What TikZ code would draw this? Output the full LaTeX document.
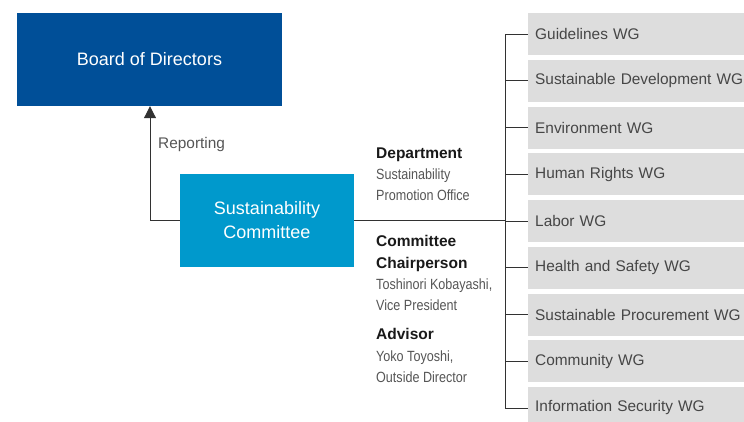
\documentclass[tikz,border=0pt]{standalone}
\usepackage{fontspec}
\setmainfont{Liberation Sans}
\newfontfamily\condfont[FakeStretch=0.85]{Liberation Sans}
\usetikzlibrary{arrows.meta}
\definecolor{boardblue}{RGB}{0,79,152}
\definecolor{commblue}{RGB}{0,153,204}
\definecolor{wgfill}{RGB}{221,221,221}
\definecolor{wgtext}{RGB}{70,70,70}
\definecolor{greytext}{RGB}{85,85,85}
\definecolor{linecol}{RGB}{50,50,50}
\begin{document}
\begin{tikzpicture}[x=1pt,y=-1pt,
  bluebox/.style={draw=none,text=white,inner sep=0pt,align=center,
    font=\fontsize{18}{24}\selectfont},
  wgbox/.style={fill=wgfill,anchor=west,minimum width=216pt,minimum height=42pt,
    inner xsep=7pt,text=wgtext,font=\fontsize{15.4}{18}\selectfont,text width=212pt,align=left},
  conn/.style={draw=linecol,line width=1pt},
  head/.style={anchor=base west,inner sep=0pt,text=black!90,font=\bfseries\fontsize{15.5}{18}\selectfont},
  sub/.style={anchor=base west,inner sep=0pt,text=greytext,font=\condfont\fontsize{14.8}{18}\selectfont},
  rep/.style={anchor=base west,inner sep=0pt,text=greytext,font=\fontsize{15.4}{18}\selectfont}
]
\useasboundingbox (0,0) rectangle (744,421);
\begin{scope}
\clip (0,0) rectangle (744,421);
\node[bluebox,fill=boardblue,minimum width=265pt,minimum height=93pt] (board) at (149.5,59.5) {Board of Directors};
\node[bluebox,fill=commblue,minimum width=174pt,minimum height=93pt] (comm) at (267,220.5) {Sustainability\\Committee};
\foreach \i/\t in {1/Guidelines WG,2/Sustainable Development WG,3/Environment WG,4/Human Rights WG,5/Labor WG,6/Health and Safety WG,7/Sustainable Procurement WG,8/Community WG,9/Information Security WG}{
  \node[wgbox] (wg\i) at (528,{34+46.75*(\i-1)}) {\t};
}
\end{scope}
\coordinate (rp) at (150,220.5);
\coordinate (trunk) at (505,220.5);
\draw[conn,-{Triangle[length=12pt,width=12pt]}] (comm.west) -- (rp) -- (rp |- board.south);
\draw[conn] (comm.east) -- (trunk);
\draw[conn] (wg1.west) -- (wg1.west -| trunk) -- (wg9.west -| trunk) -- (wg9.west);
\foreach \i in {2,...,8}{
  \draw[conn] (wg\i.west -| trunk) -- (wg\i.west);
}
\node[rep] (reporting) at (158,148.5) {Reporting};
\node[head] (dept) at (376,158.5) {Department};
\node[sub] (dept1) at (376,179.5) {Sustainability};
\node[sub] (dept2) at (376,200.5) {Promotion Office};
\node[head] (chair) at (376,246.5) {Committee};
\node[head] (chair0) at (376,268.5) {Chairperson};
\node[sub] (chair1) at (376,289.5) {Toshinori Kobayashi,};
\node[sub] (chair2) at (376,310.5) {Vice President};
\node[head] (adv) at (376,339.5) {Advisor};
\node[sub] (adv1) at (376,361.5) {Yoko Toyoshi,};
\node[sub] (adv2) at (376,382.5) {Outside Director};
\end{tikzpicture}
\end{document}
